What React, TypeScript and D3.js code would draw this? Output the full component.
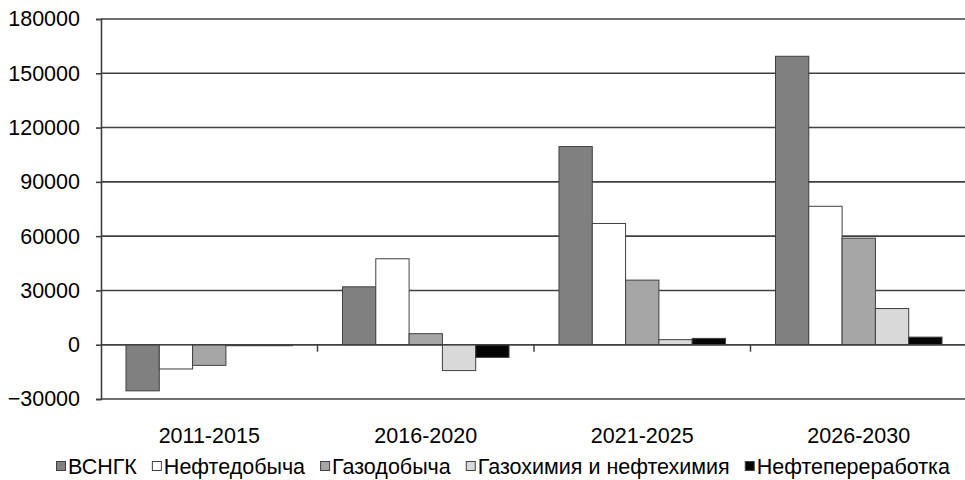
import React, { useEffect, useRef } from "react";
import * as d3 from "d3";

const periods = ["2011-2015", "2016-2020", "2021-2025", "2026-2030"];
const seriesNames = [
  "ВСНГК",
  "Нефтедобыча",
  "Газодобыча",
  "Газохимия и нефтехимия",
  "Нефтепереработка",
];
const vsngk = [-25500, 32000, 109500, 159400];
const neftedobycha = [-13400, 47500, 67000, 76500];
const gazodobycha = [-11400, 6100, 35700, 58900];
const gazohimiya = [0, -14300, 2800, 20000];
const neftepererabotka = [-500, -7000, 3500, 4200];
const yTicks = [-30000, 0, 30000, 60000, 90000, 120000, 150000, 180000];
const fills = ["#808080", "#ffffff", "#a6a6a6", "#d9d9d9", "#050505"];

const FONT = "'Liberation Sans', Arial, sans-serif";
const FS = "21.5px";

export default function App() {
  const ref = useRef<SVGSVGElement>(null);

  useEffect(() => {
    const svg = d3.select(ref.current);
    svg.selectAll("*").remove();

    const left = 101,
      right = 967,
      top = 19,
      bottom = 399;

    const allSeries = [vsngk, neftedobycha, gazodobycha, gazohimiya, neftepererabotka];

    const x0 = d3.scaleBand().domain(periods).range([left, right]).paddingInner(0).paddingOuter(0);
    const x1 = d3
      .scaleBand()
      .domain(seriesNames)
      .range([0, x0.bandwidth()])
      .paddingInner(0)
      .paddingOuter(0.75);
    const y = d3.scaleLinear().domain([-30000, 180000]).range([bottom, top]);

    // grid lines
    svg
      .append("g")
      .selectAll("line")
      .data(yTicks)
      .join("line")
      .attr("x1", left)
      .attr("x2", 965)
      .attr("y1", (d) => y(d))
      .attr("y2", (d) => y(d))
      .attr("stroke", "#404040")
      .attr("stroke-width", 1.6);

    // y axis
    const yAxis = svg
      .append("g")
      .attr("transform", `translate(${left},0)`)
      .call(d3.axisLeft(y).tickValues(yTicks).tickSize(5).tickPadding(16).tickFormat(d3.format("d")));
    yAxis.select(".domain").attr("stroke", "#404040").attr("stroke-width", 1.6);
    yAxis.selectAll(".tick line").attr("stroke", "#404040").attr("stroke-width", 1.6);
    yAxis
      .selectAll(".tick text")
      .attr("fill", "#000")
      .style("font-family", FONT)
      .style("font-size", FS);

    // bars
    const groups = svg
      .append("g")
      .selectAll("g")
      .data(periods)
      .join("g")
      .attr("transform", (p) => `translate(${x0(p)},0)`);

    groups
      .selectAll("rect")
      .data((p, i) => seriesNames.map((s, k) => ({ s, k, v: allSeries[k][i] })))
      .join("rect")
      .attr("x", (d) => x1(d.s)!)
      .attr("width", x1.bandwidth())
      .attr("y", (d) => y(Math.max(0, d.v)))
      .attr("height", (d) => Math.max(1, Math.abs(y(d.v) - y(0))))
      .attr("fill", (d) => fills[d.k])
      .attr("stroke", "#404040")
      .attr("stroke-width", 1);

    // zero line on top
    svg
      .append("line")
      .attr("x1", left)
      .attr("x2", 965)
      .attr("y1", y(0))
      .attr("y2", y(0))
      .attr("stroke", "#404040")
      .attr("stroke-width", 1.6);

    // category ticks on the zero line
    svg
      .append("g")
      .selectAll("line")
      .data(periods.slice(1))
      .join("line")
      .attr("x1", (p) => x0(p)!)
      .attr("x2", (p) => x0(p)!)
      .attr("y1", y(0))
      .attr("y2", y(0) + 7)
      .attr("stroke", "#404040")
      .attr("stroke-width", 1.5);

    // category labels
    svg
      .append("g")
      .selectAll("text")
      .data(periods)
      .join("text")
      .attr("x", (p) => x0(p)! + x0.bandwidth() / 2)
      .attr("y", 443)
      .attr("text-anchor", "middle")
      .style("font-family", FONT)
      .style("font-size", FS)
      .text((p) => p);

    // legend
    const legend = svg.append("g");
    let cx = 56;
    seriesNames.forEach((name, k) => {
      legend
        .append("rect")
        .attr("x", cx + 0.5)
        .attr("y", 461.5)
        .attr("width", 9)
        .attr("height", 9)
        .attr("fill", fills[k])
        .attr("stroke", "#404040")
        .attr("stroke-width", 1);
      const t = legend
        .append("text")
        .attr("x", cx + 12)
        .attr("y", 474)
        .style("font-family", FONT)
        .style("font-size", FS)
        .text(name);
      const w = (t.node() as SVGTextElement).getComputedTextLength();
      cx = cx + 12 + w + 15;
    });
  }, []);

  return (
    <svg
      ref={ref}
      width={965}
      height={480}
      style={{ position: "absolute", left: 0, top: 0, display: "block", background: "#fff" }}
    />
  );
}
